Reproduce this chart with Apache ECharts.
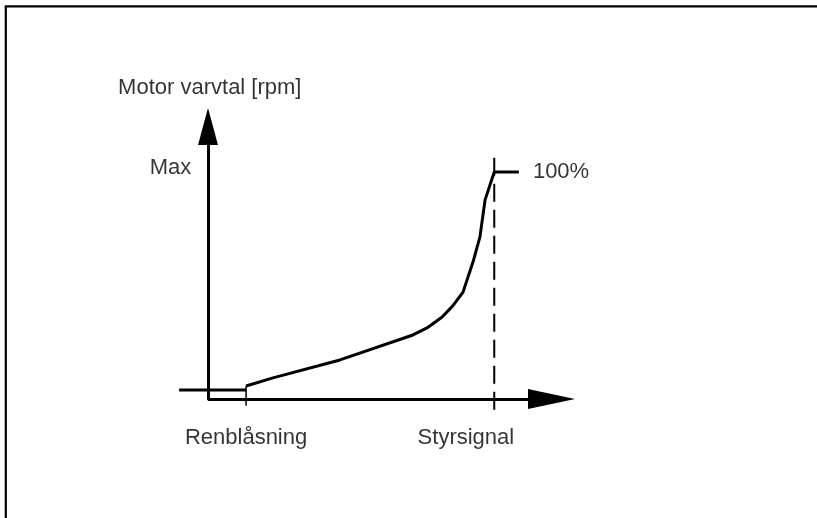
<!DOCTYPE html>
<html>
<head>
<meta charset="utf-8">
<script src="https://cdn.jsdelivr.net/npm/echarts@6/dist/echarts.min.js"></script>
<style>
html,body{margin:0;padding:0;background:#fff;}
#chart{width:817px;height:518px;}
</style>
</head>
<body>
<div id="chart"></div>
<script>
// Motor speed (% of max) as a function of control signal (% , Styrsignal = 100)
const curveX = [13.3, 22.7, 46.1, 71.6, 76.5, 81.8, 85.5, 89.1, 92.6, 95.0, 96.8, 100, 108.6];
const curveY = [5.7, 9.3, 17.2, 28.2, 31.3, 36.1, 41.0, 47.1, 60.4, 71.4, 87.7, 100, 100];
const idleX = [-10.1, 13.3];
const idleY = [4, 4];
const purgeTickX = [13.3, 13.3];
const purgeTickY = [-3, 5.7];
const signalDashX = [100, 100];
const signalDashY = [106.2, -6.2];
const xAxisExtent = [0, 120];
const yAxisTitle = 'Motor varvtal [rpm]';
const maxLabel = 'Max';
const fullLabel = '100%';
const purgeLabel = 'Renblåsning';
const signalLabel = 'Styrsignal';

const pairs = (xs, ys) => xs.map((x, i) => [x, ys[i]]);
const font = { fontFamily: 'Liberation Sans', fontSize: 22, color: '#000' };

const chart = echarts.init(document.getElementById('chart'), null, { renderer: 'canvas' });
const lineBase = { type: 'line', symbol: 'none', clip: false, silent: true, animation: false };

const pxPerUnit = (551.5 - 208) / 120;
const xMin = -10.5;

chart.setOption({
  animation: false,
  backgroundColor: '#fff',
  grid: { left: 208 + xMin * pxPerUnit, top: 126.5, right: 265.5, bottom: 119 },
  xAxis: {
    type: 'value', min: xMin, max: 120,
    axisLine: { show: false },
    axisTick: { show: false }, axisLabel: { show: false }, splitLine: { show: false }
  },
  yAxis: {
    type: 'value', min: 0, max: 120,
    axisLine: { show: true, onZero: true, lineStyle: { color: '#000', width: 3 },
      symbol: ['none', 'triangle'], symbolSize: [20, 37] },
    axisTick: { show: false }, axisLabel: { show: false }, splitLine: { show: false }
  },
  graphic: [{
    type: 'polyline', silent: true,
    shape: { points: [[5.8, 518], [5.8, 6.3], [817, 6.3]] },
    style: { stroke: '#000', lineWidth: 2.2, fill: null }
  }],
  series: [
    Object.assign({}, lineBase, {
      data: pairs(idleX, idleY), lineStyle: { color: '#000', width: 3 },
      markLine: {
        silent: true, animation: false,
        symbol: ['none', 'triangle'], symbolSize: [20, 47],
        label: { show: false },
        lineStyle: { color: '#000', width: 3, type: 'solid' },
        data: [[{ coord: [xAxisExtent[0], 0] }, { coord: [xAxisExtent[1], 0] }]]
      }
    }),
    Object.assign({}, lineBase, { data: pairs(purgeTickX, purgeTickY), lineStyle: { color: '#000', width: 1.5 } }),
    Object.assign({}, lineBase, { data: pairs(curveX, curveY), smooth: false, lineStyle: { color: '#000', width: 3, join: 'round' } }),
    Object.assign({}, lineBase, { data: pairs(signalDashX, signalDashY), lineStyle: { color: '#000', width: 2, type: [18, 8] } }),
    {
      type: 'scatter', symbolSize: 0, clip: false, silent: true, animation: false,
      label: Object.assign({ show: true, formatter: p => p.data.name }, font),
      data: [
        { name: purgeLabel, value: [13.3, -17.2], label: { position: 'inside', align: 'center', verticalAlign: 'middle' } },
        { name: signalLabel, value: [90.1, -17.2], label: { position: 'inside', align: 'center', verticalAlign: 'middle' } },
        { name: maxLabel, value: [-13.1, 101.8], label: { position: 'inside', align: 'center', verticalAlign: 'middle' } },
        { name: fullLabel, value: [113.5, 100], label: { position: 'inside', align: 'left', verticalAlign: 'middle' } },
        { name: yAxisTitle, value: [-31.4, 137], label: { position: 'inside', align: 'left', verticalAlign: 'middle' } }
      ]
    }
  ]
});
</script>
</body>
</html>
